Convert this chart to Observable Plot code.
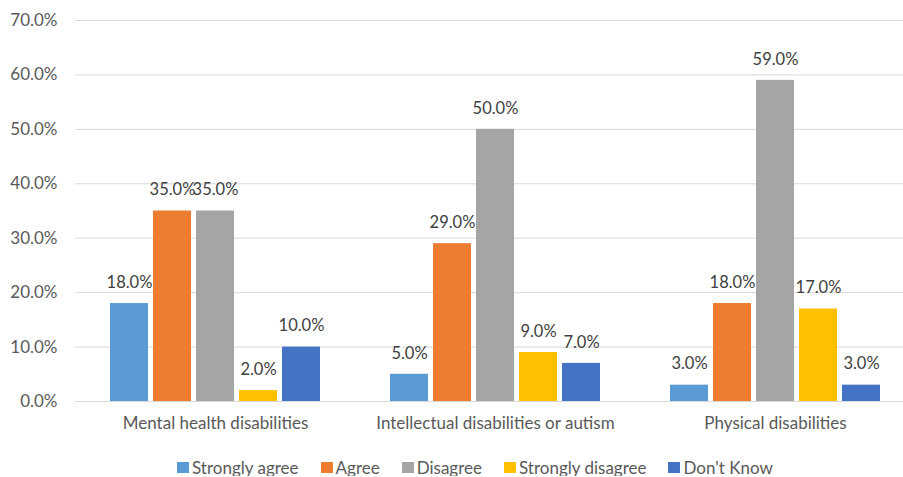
<!DOCTYPE html>
<html>
<head>
<meta charset="utf-8">
<script src="https://cdn.jsdelivr.net/npm/d3@7"></script>
<script src="https://cdn.jsdelivr.net/npm/@observablehq/plot@0.6"></script>
<style>
  html, body { margin: 0; padding: 0; background: #ffffff; overflow: hidden; }
  #chart svg { overflow: hidden; display: block; }
  #legend {
    display: flex; align-items: center; padding-top: 19px; box-sizing: border-box;
    padding-left: 177px; font-family: Lato, "Open Sans", sans-serif; font-size: 17px; color: #595959;
  }
  .item { display: flex; align-items: center; margin-right: 22px; line-height: 17px; }
  .sw { width: 12px; height: 11px; margin-right: 3px; }
</style>
</head>
<body>
<div id="chart"></div>
<div id="legend"></div>
<script>
// Survey categories and response options
const categories = ["Mental health disabilities", "Intellectual disabilities or autism", "Physical disabilities"];
const responses = ["Strongly agree", "Agree", "Disagree", "Strongly disagree", "Don't Know"];
const colors = ["#5B9BD5", "#ED7D31", "#A5A5A5", "#FFC000", "#4472C4"];

// Share of respondents (%) per category, one array per response
const stronglyAgree = [18, 5, 3];
const agree = [35, 29, 18];
const disagree = [35, 50, 59];
const stronglyDisagree = [2, 9, 17];
const dontKnow = [10, 7, 3];

const yTicks = [0, 10, 20, 30, 40, 50, 60, 70];

const series = [stronglyAgree, agree, disagree, stronglyDisagree, dontKnow];
const rows = [];
categories.forEach((cat, i) => {
  responses.forEach((resp, j) => {
    rows.push({category: cat, response: resp, value: series[j][i]});
  });
});

const pct = d => d.toFixed(1) + "%";
const font = "Lato, 'Open Sans', sans-serif";

const chart = Plot.plot({
  width: 903,
  height: 440,
  marginTop: 20,
  marginBottom: 39,
  marginLeft: 74,
  marginRight: 0,
  style: {fontFamily: font, fontSize: "17px", color: "#595959", background: "#ffffff"},
  fx: {domain: categories, range: [74.4, 914.6], paddingInner: 0, paddingOuter: 0, label: null},
  x: {domain: responses, paddingInner: 0.12, paddingOuter: 0.79, axis: null},
  y: {domain: [0, 70], label: null},
  color: {domain: responses, range: colors},
  marks: [
    Plot.gridY(yTicks, {stroke: "#D9D9D9", strokeOpacity: 1, strokeWidth: 1}),
    Plot.axisY(yTicks, {tickSize: 0, tickPadding: 18, tickFormat: pct, fill: "#595959", fontSize: 17}),
    Plot.axisFx({anchor: "bottom", tickSize: 0, tickPadding: 15, fill: "#595959", fontSize: 17, label: null}),
    Plot.barY(rows, {fx: "category", x: "response", y: "value", fill: "response"}),
    Plot.text(rows, {fx: "category", x: "response", y: "value", text: d => pct(d.value), dy: -21, fill: "#404040", fontSize: 16.5})
  ]
});
document.getElementById("chart").appendChild(chart);

const legend = document.getElementById("legend");
responses.forEach((r, i) => {
  const item = document.createElement("div");
  item.className = "item";
  const sw = document.createElement("span");
  sw.className = "sw";
  sw.style.background = colors[i];
  const label = document.createElement("span");
  label.textContent = r;
  item.appendChild(sw);
  item.appendChild(label);
  legend.appendChild(item);
});
</script>
</body>
</html>
